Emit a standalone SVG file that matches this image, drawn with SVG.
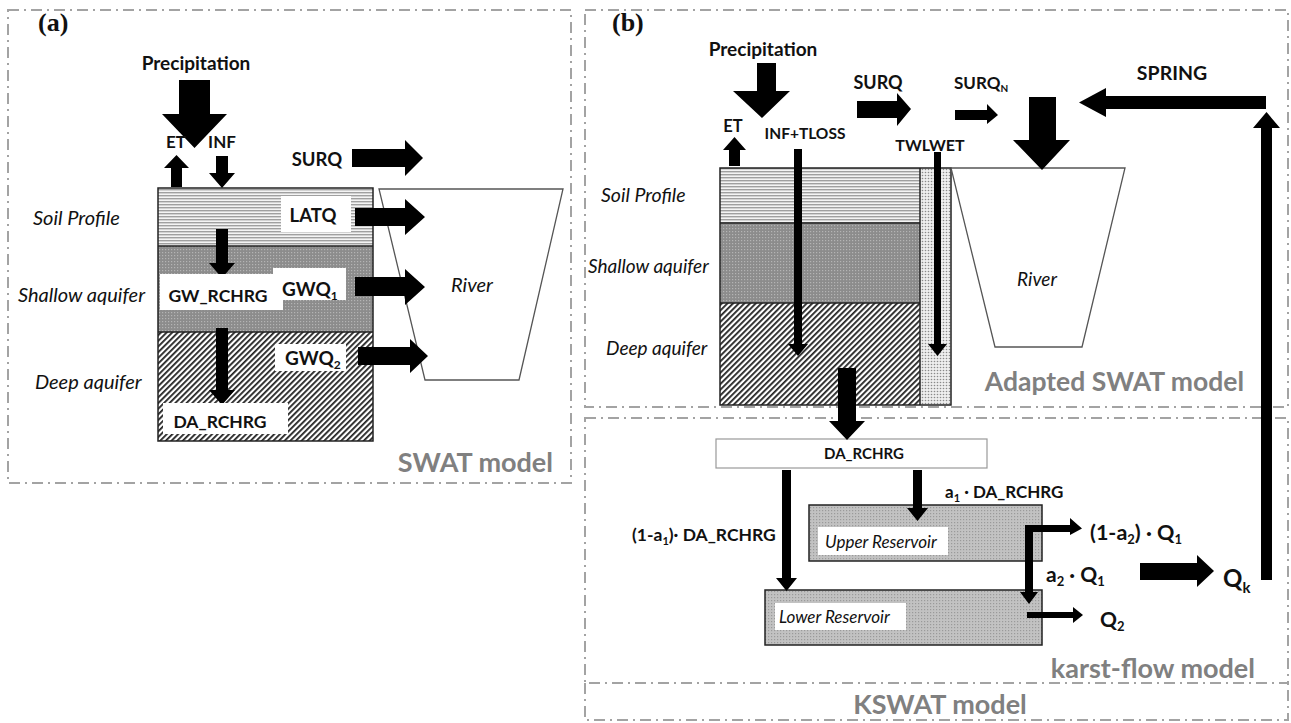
<svg xmlns="http://www.w3.org/2000/svg" width="1291" height="723" viewBox="0 0 1291 723">
  <defs>
    <style>
      .frame { fill: none; stroke: #a3a3a3; stroke-width: 2; stroke-dasharray: 11 5 2 5; }
      .lbl { font-family: Lato, "Liberation Sans", sans-serif; font-weight: bold; fill: #111; }
      .lyr { font-family: Lato, "Liberation Sans", sans-serif; font-style: italic; fill: #111; }
      .tag { font-family: "Liberation Serif", serif; font-weight: bold; fill: #111; }
      .model { font-family: Lato, "Liberation Sans", sans-serif; font-weight: bold; fill: #808080; }
      .arr { fill: #000; }
      .out { stroke: #222; stroke-width: 1.5; }
      .river { fill: #fff; stroke: #555; stroke-width: 1.3; }
      .wb { fill: #fff; }
    </style>
    <pattern id="pSoil" width="4" height="3" patternUnits="userSpaceOnUse">
      <rect width="4" height="3" fill="#f4f4f4"/>
      <rect width="4" height="1.4" fill="#a0a0a0"/>
    </pattern>
    <pattern id="pShallow" width="3" height="3" patternUnits="userSpaceOnUse">
      <rect width="3" height="3" fill="#8c8c8c"/>
      <rect width="1.2" height="1.2" fill="#b4b4b4"/>
    </pattern>
    <pattern id="pDeep" width="4" height="4" patternUnits="userSpaceOnUse" patternTransform="rotate(45)">
      <rect width="4" height="4" fill="#fff"/>
      <rect width="1.8" height="4" fill="#222"/>
    </pattern>
    <pattern id="pStrip" width="3" height="3" patternUnits="userSpaceOnUse">
      <rect width="3" height="3" fill="#eeeeee"/>
      <circle cx="1.5" cy="1.5" r="0.8" fill="#8a8a8a"/>
    </pattern>
    <pattern id="pRes" width="3" height="3" patternUnits="userSpaceOnUse">
      <rect width="3" height="3" fill="#c2c2c2"/>
      <rect width="1.2" height="1.2" fill="#9a9a9a"/>
    </pattern>
  </defs>

  <rect width="1291" height="723" fill="#fff"/>

  <!-- model frames -->
  <g id="frames">
    <rect class="frame" x="8" y="10" width="563" height="473"/>
    <rect class="frame" x="585" y="10" width="703" height="397"/>
    <rect class="frame" x="585" y="418" width="703" height="265"/>
    <path class="frame" d="M585,683 V720 H1288 V683"/>
  </g>

  <!-- ===== (a) SWAT model ===== -->
  <g id="panel-a-tag"><text class="tag" x="38" y="31" font-size="26">(a)</text></g>

  <g id="a-soil-column">
    <rect x="158" y="188" width="215" height="58" fill="url(#pSoil)"/>
    <rect x="158" y="246" width="215" height="86" fill="url(#pShallow)"/>
    <rect x="158" y="332" width="215" height="109" fill="url(#pDeep)"/>
    <line class="out" x1="158" y1="246" x2="373" y2="246"/>
    <line class="out" x1="158" y1="332" x2="373" y2="332"/>
    <rect x="158" y="188" width="215" height="253" fill="none" stroke="#222" stroke-width="1.5"/>
  </g>

  <g id="a-river">
    <polygon class="river" points="379,189 563,189 519,380 425,380"/>
    <text class="lyr" x="472" y="292" font-size="20" text-anchor="middle">River</text>
  </g>

  <g id="a-layer-labels">
    <text class="lyr" x="33" y="225" font-size="20">Soil Profile</text>
    <text class="lyr" x="18" y="302" font-size="20">Shallow aquifer</text>
    <text class="lyr" x="35" y="389" font-size="20">Deep aquifer</text>
  </g>

  <g id="a-connectors">
    <!-- precipitation -->
    <polygon class="arr" points="179,80 210,80 210,114 227,114 194.5,148 162,114 179,114"/>
    <!-- ET up -->
    <polygon class="arr" points="171,187 182,187 182,168 189,168 176.5,155 164,168 171,168"/>
    <!-- INF down -->
    <polygon class="arr" points="216,156 228,156 228,173 235,173 222,188 209,173 216,173"/>
    <!-- SURQ -->
    <polygon class="arr" points="352,149 405,149 405,140 423,158 405,176 405,167 352,167"/>
    <!-- LATQ -->
    <polygon class="arr" points="355,208 405,208 405,199 425,217 405,235 405,226 355,226"/>
    <!-- GWQ1 -->
    <polygon class="arr" points="355,277 405,277 405,269 425,287 405,305 405,296 355,296"/>
    <!-- GWQ2 -->
    <polygon class="arr" points="358,347 410,347 410,339 428,356 410,373 410,365 358,365"/>
    <!-- soil to shallow -->
    <polygon class="arr" points="216,229 228,229 228,263 235,263 222,278 209,263 216,263"/>
    <!-- shallow to deep -->
    <polygon class="arr" points="216,328 228,328 228,390 235,390 222,405 209,390 216,390"/>
  </g>

  <g id="a-flux-labels">
    <text class="lbl" x="196" y="70" font-size="19" text-anchor="middle">Precipitation</text>
    <text class="lbl" x="176" y="148" font-size="17" text-anchor="middle">ET</text>
    <text class="lbl" x="222" y="148" font-size="17" text-anchor="middle">INF</text>
    <text class="lbl" x="317" y="166" font-size="18.5" text-anchor="middle">SURQ</text>
    <rect class="wb" x="281" y="196" width="70" height="36"/>
    <text class="lbl" x="313" y="222" font-size="18.5" text-anchor="middle">LATQ</text>
    <path class="wb" d="M160,274 H273 V268 H346 V300 H283 V310 H160 Z"/>
    <text class="lbl" x="218" y="302" font-size="17.5" text-anchor="middle">GW_RCHRG</text>
    <text class="lbl" x="282" y="296" font-size="19">GWQ<tspan font-size="12" dy="4">1</tspan></text>
    <rect class="wb" x="275" y="344" width="71" height="27"/>
    <text class="lbl" x="285" y="365" font-size="19">GWQ<tspan font-size="12" dy="4">2</tspan></text>
    <rect class="wb" x="163" y="403" width="125" height="31"/>
    <text class="lbl" x="220" y="428" font-size="17.5" text-anchor="middle">DA_RCHRG</text>
  </g>

  <g id="a-model-name"><text class="model" x="553" y="472" font-size="27" text-anchor="end">SWAT model</text></g>

  <!-- ===== (b) KSWAT model ===== -->
  <g id="panel-b-tag"><text class="tag" x="612" y="31" font-size="26">(b)</text></g>

  <g id="b-soil-column">
    <rect x="720" y="168" width="200" height="55" fill="url(#pSoil)"/>
    <rect x="720" y="223" width="200" height="80" fill="url(#pShallow)"/>
    <rect x="720" y="303" width="200" height="102" fill="url(#pDeep)"/>
    <rect x="920" y="168" width="31" height="237" fill="url(#pStrip)"/>
    <line class="out" x1="720" y1="223" x2="920" y2="223"/>
    <line class="out" x1="720" y1="303" x2="920" y2="303"/>
    <line class="out" x1="920" y1="168" x2="920" y2="405"/>
    <rect x="720" y="168" width="231" height="237" fill="none" stroke="#222" stroke-width="1.5"/>
  </g>

  <g id="b-river">
    <polygon class="river" points="951,168 1125,168 1082,347 995,347"/>
    <text class="lyr" x="1037" y="286" font-size="19" text-anchor="middle">River</text>
  </g>

  <g id="b-layer-labels">
    <text class="lyr" x="601" y="202" font-size="19.5">Soil Profile</text>
    <text class="lyr" x="588" y="273" font-size="19">Shallow aquifer</text>
    <text class="lyr" x="606" y="355" font-size="19">Deep aquifer</text>
  </g>

  <g id="b-da-rchrg">
    <rect x="716" y="439" width="271" height="29" fill="#fff" stroke="#999" stroke-width="1.2"/>
    <text class="lbl" x="864" y="459" font-size="15" text-anchor="middle">DA_RCHRG</text>
  </g>

  <g id="b-upper-reservoir">
    <rect x="809" y="505" width="233" height="56" fill="url(#pRes)" stroke="#222" stroke-width="1.5"/>
    <rect class="wb" x="818" y="527" width="130" height="28"/>
    <text class="lyr" x="825" y="548" font-size="17">Upper Reservoir</text>
  </g>

  <g id="b-lower-reservoir">
    <rect x="765" y="590" width="277" height="55" fill="url(#pRes)" stroke="#222" stroke-width="1.5"/>
    <rect class="wb" x="775" y="603" width="131" height="27"/>
    <text class="lyr" x="779" y="623" font-size="17">Lower Reservoir</text>
  </g>

  <g id="b-connectors">
    <!-- precipitation -->
    <polygon class="arr" points="757,63 776,63 776,91 790,91 762,118 733,91 757,91"/>
    <!-- ET up -->
    <polygon class="arr" points="729,166 740,166 740,150 746,150 734.5,137 723,150 729,150"/>
    <!-- INF+TLOSS down through column -->
    <polygon class="arr" points="794,149 802,149 802,344 808,344 798,356 788,344 794,344"/>
    <!-- TWLWET down through strip -->
    <polygon class="arr" points="934,152 941,152 941,344 947,344 937.5,356 928,344 934,344"/>
    <!-- SURQ -->
    <polygon class="arr" points="857,101 897,101 897,93 911,109 897,126 897,118 857,118"/>
    <!-- SURQ_N -->
    <polygon class="arr" points="955,110 987,110 987,104 998,115 987,124 987,120 955,120"/>
    <!-- inflow to river -->
    <polygon class="arr" points="1029,97 1056,97 1056,140 1070,140 1042,170 1013,140 1029,140"/>
    <!-- SPRING -->
    <polygon class="arr" points="1266,96 1266,109 1106,109 1106,117 1079,102.5 1106,88 1106,96"/>
    <!-- Q_k rising to spring -->
    <polygon class="arr" points="1261,580 1272,580 1272,128 1280,128 1266.5,112 1253,128 1261,128"/>
    <!-- deep aquifer to DA_RCHRG -->
    <polygon class="arr" points="838,368 856,368 856,421 865,421 847,440 829,421 838,421"/>
    <!-- (1-a1) DA_RCHRG to lower reservoir -->
    <polygon class="arr" points="782,470 791,470 791,578 797,578 786.5,591 776,578 782,578"/>
    <!-- a1 DA_RCHRG to upper reservoir -->
    <polygon class="arr" points="913,470 922,470 922,508 928,508 917.5,521 907,508 913,508"/>
    <!-- upper outlet: (1-a2) Q1 and a2 Q1 -->
    <polygon class="arr" points="1025,525 1070,525 1070,518 1082,528.5 1070,535 1070,532 1033,532 1033,592 1038,592 1029,604 1020,592 1025,592"/>
    <!-- lower outlet Q2 -->
    <polygon class="arr" points="1027,612 1073,612 1073,607 1083,615 1073,623 1073,618 1027,618"/>
    <!-- Q_k -->
    <polygon class="arr" points="1140,563 1197,563 1197,555 1214,571 1197,587 1197,580 1140,580"/>
  </g>

  <g id="b-flux-labels">
    <text class="lbl" x="763" y="56" font-size="19" text-anchor="middle">Precipitation</text>
    <text class="lbl" x="733" y="132" font-size="16.5" text-anchor="middle">ET</text>
    <text class="lbl" x="805" y="139" font-size="15.5" text-anchor="middle">INF+TLOSS</text>
    <text class="lbl" x="878" y="89" font-size="18" text-anchor="middle">SURQ</text>
    <text class="lbl" x="954" y="89" font-size="17">SURQ<tspan font-size="10" dy="3">N</tspan></text>
    <text class="lbl" x="930" y="151" font-size="16" text-anchor="middle">TWLWET</text>
    <text class="lbl" x="1172" y="80" font-size="19.5" text-anchor="middle">SPRING</text>
    <text class="lbl" x="945" y="498" font-size="17">a<tspan font-size="11" dy="4">1</tspan><tspan dy="-4"> · DA_RCHRG</tspan></text>
    <text class="lbl" x="632" y="541" font-size="17.5">(1-a<tspan font-size="11" dy="4">1</tspan><tspan dy="-4">)· DA_RCHRG</tspan></text>
    <text class="lbl" x="1090" y="540" font-size="21.5">(1-a<tspan font-size="13" dy="4">2</tspan><tspan dy="-4">) · Q</tspan><tspan font-size="13" dy="4">1</tspan></text>
    <text class="lbl" x="1046" y="582" font-size="21">a<tspan font-size="13" dy="4">2</tspan><tspan dy="-4"> · Q</tspan><tspan font-size="13" dy="4">1</tspan></text>
    <text class="lbl" x="1100" y="627" font-size="21">Q<tspan font-size="13" dy="4">2</tspan></text>
    <text class="lbl" x="1223" y="587" font-size="24">Q<tspan font-size="15" dy="6">k</tspan></text>
  </g>

  <g id="b-model-names">
    <text class="model" x="1244" y="391" font-size="26.5" text-anchor="end">Adapted SWAT model</text>
    <text class="model" x="1255" y="678" font-size="27" text-anchor="end">karst-flow model</text>
    <text class="model" x="940" y="714" font-size="27" text-anchor="middle">KSWAT model</text>
  </g>
</svg>
